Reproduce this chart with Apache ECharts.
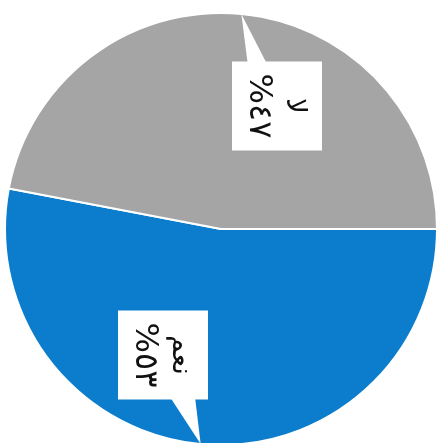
<!DOCTYPE html>
<html>
<head>
<meta charset="utf-8">
<script src="https://cdn.jsdelivr.net/npm/echarts@6/dist/echarts.min.js"></script>
<style>html,body{margin:0;padding:0;background:#fff;}#c{width:441px;height:443px;}</style>
</head>
<body>
<div id="c"></div>
<script>
const categories = ['نعم', 'لا'];
const values = [53, 47];
const percentLabels = ['%٥٣', '%٤٧'];
const colors = ['#0b7dcc', '#a5a5a5'];

const CX = 221, CY = 229, R = 216;
// label box centres and pointer bases (layout only)
const labelCenters = [[163, 355], [277, 106]];
const pointerBases = [[[170, 397], [195, 397]], [[248, 66], [268, 66]]];

// pointer tips sit on the rim at each slice's mid-angle (computed from the data)
const total = values.reduce((a, b) => a + b, 0);
let acc = 0;
const tips = values.map(v => {
  const mid = 0 - (acc + v / 2) / total * 360; // startAngle 0, clockwise
  acc += v;
  const a = mid * Math.PI / 180;
  return [CX + R * Math.cos(a), CY - R * Math.sin(a)];
});

const chart = echarts.init(document.getElementById('c'), null, {renderer: 'canvas'});
chart.setOption({
  animation: false,
  backgroundColor: '#ffffff',
  graphic: tips.map((t, i) => ({
    type: 'polygon',
    z: 10,
    shape: {points: [pointerBases[i][0], pointerBases[i][1], t]},
    style: {fill: '#ffffff'}
  })),
  series: [{
    type: 'pie',
    center: [CX, CY],
    radius: [0, R],
    startAngle: 0,
    clockwise: true,
    silent: true,
    z: 2,
    itemStyle: {borderColor: '#ffffff', borderWidth: 2},
    data: categories.map((c, i) => ({
      name: c, value: values[i], itemStyle: {color: colors[i]}
    })),
    label: {
      show: true,
      position: 'outside',
      rotate: -90,
      color: '#111',
      backgroundColor: '#ffffff',
      padding: [10, 12, 8, 12],
      formatter: p => '{n|' + p.name + '}\n{v|' + percentLabels[p.dataIndex] + '}',
      rich: {
        n: {fontFamily: 'DejaVu Sans', fontSize: 28, lineHeight: 36, color: '#111', align: 'center'},
        v: {fontFamily: 'DejaVu Sans', fontSize: 32, lineHeight: 36, color: '#111', align: 'center'}
      }
    },
    labelLine: {show: false},
    labelLayout: p => ({
      x: labelCenters[p.dataIndex][0],
      y: labelCenters[p.dataIndex][1],
      align: 'center',
      verticalAlign: 'middle'
    })
  }]
});
</script>
</body>
</html>
